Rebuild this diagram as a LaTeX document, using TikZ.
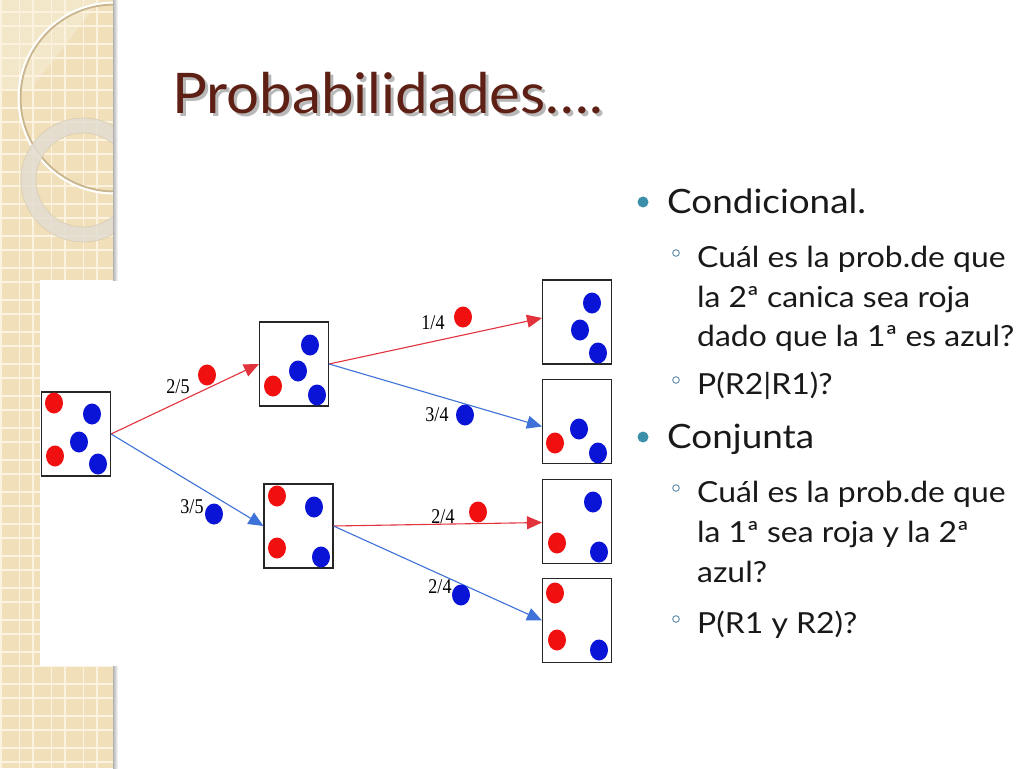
\documentclass[tikz,border=0pt]{standalone}
\usepackage{fontspec}
\setmainfont{Lato}[FakeStretch=1.1]
\newfontfamily\titlefont{Lato}[FakeStretch=1.04]
\newfontfamily\serifnum{Liberation Serif}[FakeStretch=0.86]
\usetikzlibrary{arrows.meta}
\definecolor{beige}{HTML}{F0DFB9}
\definecolor{gridc}{HTML}{FBF3DF}
\definecolor{titlec}{HTML}{5E1F14}
\definecolor{bullc}{HTML}{3C8FA8}
\definecolor{subbull}{HTML}{6A93B0}
\definecolor{linered}{HTML}{E2323C}
\definecolor{lineblue}{HTML}{3E72D8}
\definecolor{dotred}{HTML}{F01010}
\definecolor{dotblue}{HTML}{0A14D6}
\definecolor{ringc}{HTML}{E2DDD2}
\definecolor{arcc}{HTML}{C9B68E}
\newcommand{\rd}[1]{\fill[dotred] (#1) ellipse [x radius=9pt, y radius=10.5pt];}
\newcommand{\bd}[1]{\fill[dotblue] (#1) ellipse [x radius=9pt, y radius=10.5pt];}
\begin{document}
\begin{tikzpicture}[x=1pt,y=-1pt,
  box/.style={draw=black!85,line width=1.1pt,fill=white,minimum width=69pt,minimum height=84pt,inner sep=0pt},
  rarr/.style={draw=linered,line width=1.1pt,-{Triangle[length=15pt,width=13pt]}},
  barr/.style={draw=lineblue,line width=1.1pt,-{Triangle[length=15pt,width=13pt]}},
  frac/.style={font=\serifnum\fontsize{21}{21}\selectfont,inner sep=0pt},
  lvl1/.style={anchor=base west,font=\fontsize{33.5}{33.5}\selectfont,inner sep=0pt,text=black!90},
  lvl2/.style={anchor=base west,font=\fontsize{29}{29}\selectfont,inner sep=0pt,text=black!90},
  mainbul/.style={fill=bullc},
  subbul/.style={draw=subbull,line width=1pt},
  gridline/.style={draw=gridc,line width=1.4pt},
]
\useasboundingbox (0,0) rectangle (1024,768);
\fill[white] (0,0) rectangle (1024,768);
% left strip
\begin{scope}
\clip (0,0) rectangle (113,768);
\fill[beige] (0,0) rectangle (113,768);
\fill[white,opacity=0.25] (0,0) -- (100,0) -- (30,90) -- (0,90) -- cycle;
\foreach \x in {1,33,65,97,19.5,51.5,83.5} \draw[gridline] (\x,0) -- (\x,768);
\foreach \k in {0,...,23} {\draw[gridline] (0,26+32*\k) -- (113,26+32*\k);
  \draw[gridline] (0,12+32*\k) -- (113,12+32*\k);}
\draw[arcc,line width=2pt] (114,98) circle [radius=93.5pt];
\draw[white,line width=2pt] (114,98) circle [radius=95.5pt];
\draw[ringc,line width=15pt,opacity=0.85] (83,180) circle [radius=54.5pt];
\draw[arcc!70,line width=0.6pt] (83,180) circle [radius=62pt];
\draw[arcc!70,line width=0.6pt] (83,180) circle [radius=47pt];
\fill[white] (40,280) rectangle (113,666);
\end{scope}
\shade[left color=black!30,right color=white] (113,0) rectangle (118,280);
\shade[left color=black!30,right color=white] (113,666) rectangle (118,768);
% title
\node[anchor=base west,font=\titlefont\fontsize{56}{56}\selectfont,text=black!28,inner sep=0pt] at (175,116) {Probabilidades….};
\node[anchor=base west,font=\titlefont\fontsize{56}{56}\selectfont,text=titlec,inner sep=0pt] (title) at (172,113) {Probabilidades….};
% tree boxes
\node[box] (r0) at (76,434) {};
\node[box] (a) at (294,364) {};
\node[box] (b) at (298.5,526) {};
\node[box] (c1) at (577,322) {};
\node[box] (c2) at (577,421.5) {};
\node[box] (c3) at (577,521.5) {};
\node[box] (c4) at (577,620.5) {};
% marbles
\rd{54,403} \bd{92,414} \bd{79,442} \rd{55,456} \bd{98,464}
\bd{310,345} \bd{298,371} \rd{273,386} \bd{317,395}
\rd{277,496} \bd{314,507} \rd{277,548} \bd{321,557}
\bd{592,303} \bd{580,330} \bd{598,353}
\bd{579,429} \rd{555,443} \bd{598,453}
\bd{593,502} \rd{557,543} \bd{599,552}
\rd{555,593} \rd{557,640} \bd{599,650}
% arrows
\draw[rarr] (r0.east) -- (a.west);
\draw[barr] (r0.east) -- (b.west);
\draw[rarr] (a.east) -- ([yshift=4pt]c1.west);
\draw[barr] (a.east) -- ([yshift=-5pt]c2.west);
\draw[rarr] (b.east) -- ([yshift=-1pt]c3.west);
\draw[barr] (b.east) -- (c4.west);
% labels
\node[frac] (l1) at (178,387) {2/5}; \rd{207,375}
\node[frac] (l2) at (192,507) {3/5}; \bd{214,514}
\node[frac] (l3) at (433,323) {1/4}; \rd{463,317}
\node[frac] (l4) at (437,415) {3/4}; \bd{465,415}
\node[frac] (l5) at (443,517) {2/4}; \rd{478,512}
\node[frac] (l6) at (440,587) {2/4}; \bd{461,595}
% text
\fill[mainbul] (643,202) circle [radius=5.5pt];
\node[lvl1] (t1) at (667,213) {Condicional.};
\draw[subbul] (676,253) circle [radius=3.3pt];
\node[lvl2] (t2) at (697,267) {Cuál es la prob.de que};
\node[lvl2] (t3) at (697,307) {la 2ª canica sea roja};
\node[lvl2] (t4) at (697,346) {dado que la 1ª es azul?};
\draw[subbul] (676,380) circle [radius=3.3pt];
\node[lvl2] (t5) at (697,394) {P(R2|R1)?};
\fill[mainbul] (643,437) circle [radius=5.5pt];
\node[lvl1] (t6) at (667,448) {Conjunta};
\draw[subbul] (676,488) circle [radius=3.3pt];
\node[lvl2] (t7) at (697,502) {Cuál es la prob.de que};
\node[lvl2] (t8) at (697,542) {la 1ª sea roja y la 2ª};
\node[lvl2] (t9) at (697,582) {azul?};
\draw[subbul] (676,619) circle [radius=3.3pt];
\node[lvl2] (t10) at (697,633) {P(R1 y R2)?};
\end{tikzpicture}
\end{document}
